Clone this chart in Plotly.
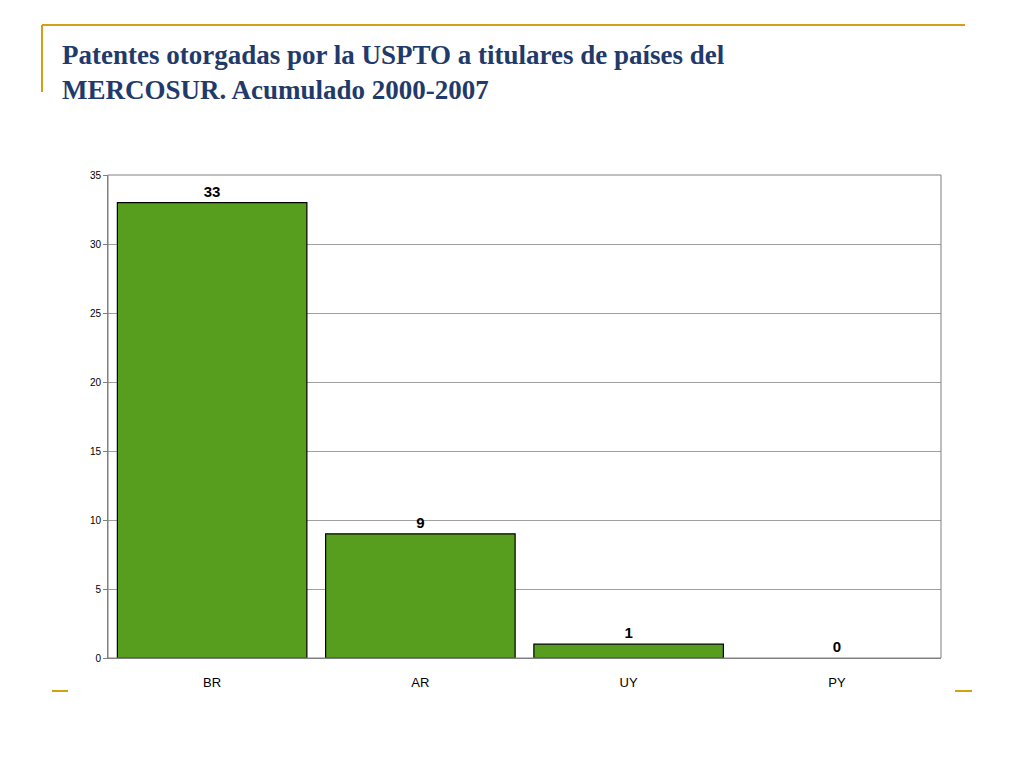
import plotly.graph_objects as go

categories = ["BR", "AR", "UY", "PY"]
values = [33, 9, 1, 0]
yticks = [0, 5, 10, 15, 20, 25, 30, 35]

fig = go.Figure(go.Bar(
    x=categories, y=values, width=0.91,
    marker=dict(color="#589E1E", line=dict(color="black", width=[1.2 if v else 0 for v in values])),
    text=["<b>%d</b>" % v for v in values], textposition="outside",
    textfont=dict(family="Liberation Sans", size=15, color="black"),
    cliponaxis=False,
))
W, H = 1024, 768
L, R, T, B = 100, 933, 167, 650
PW, PH = R - L, B - T
def fx(x): return (x - 8 - L) / PW
def fy(y): return (B - (y - 8)) / PH
gold = "#D4A017"
fig.update_layout(
    width=W, height=H, paper_bgcolor="white", plot_bgcolor="white",
    margin=dict(l=L, r=W-R, t=T, b=H-B),
    showlegend=False,
    xaxis=dict(range=[-0.5, 3.5], showline=True, linecolor="#808080", ticks="outside", ticklen=12, tickcolor="white",
               tickfont=dict(family="Liberation Sans", size=13, color="black")),
    yaxis=dict(range=[0, 35], tickvals=yticks, showgrid=True, gridcolor="#A0A0A0",
               showline=True, linecolor="#808080", ticks="outside", ticklen=4, tickcolor="#808080",
               tickfont=dict(family="Liberation Sans", size=10, color="black"), zeroline=False),
    shapes=[
        dict(type="line", xref="paper", yref="paper", x0=fx(42), x1=fx(965), y0=fy(25), y1=fy(25), line=dict(color=gold, width=2)),
        dict(type="line", xref="paper", yref="paper", x0=fx(42), x1=fx(42), y0=fy(25), y1=fy(92), line=dict(color=gold, width=2)),
        dict(type="line", xref="paper", yref="paper", x0=fx(52), x1=fx(68), y0=fy(691), y1=fy(691), line=dict(color=gold, width=2)),
        dict(type="line", xref="paper", yref="paper", x0=fx(955), x1=fx(972), y0=fy(691), y1=fy(691), line=dict(color=gold, width=2)),
        dict(type="rect", xref="paper", yref="paper", x0=0, x1=1, y0=0, y1=1, line=dict(color="#808080", width=1)),
    ],
    annotations=[dict(
        text="<b>Patentes otorgadas por la USPTO a titulares de países del<br>MERCOSUR. Acumulado 2000-2007</b>",
        xref="paper", yref="paper", x=fx(60), y=fy(38), xanchor="left", yanchor="top",
        align="left", showarrow=False,
        font=dict(family="Liberation Serif", size=27, color="#1F3A6B"))],
)
fig.write_html("out.html")
